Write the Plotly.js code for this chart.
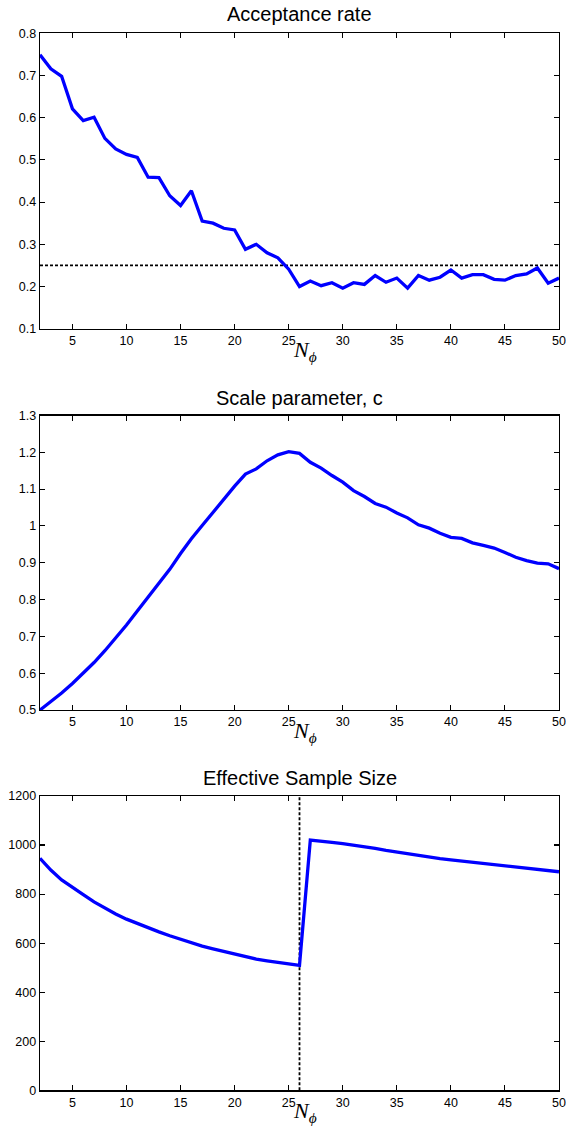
<!DOCTYPE html>
<html>
<head>
<meta charset="utf-8">
<script src="https://cdn.plot.ly/plotly-3.0.1.min.js"></script>
<style>
  html, body { margin: 0; padding: 0; background: #ffffff; }
  #chart { width: 566px; height: 1126px; }
</style>
</head>
<body>
<div id="chart"></div>
<script>
// ---- Data ----
const nPhi = [2,3,4,5,6,7,8,9,10,11,12,13,14,15,16,17,18,19,20,21,22,23,24,25,26,
              27,28,29,30,31,32,33,34,35,36,37,38,39,40,41,42,43,44,45,46,47,48,49,50];

const acceptanceRate = [0.749,0.716,0.698,0.621,0.593,0.601,0.551,0.526,0.513,0.506,
                        0.459,0.458,0.415,0.392,0.427,0.355,0.350,0.338,0.334,0.288,
                        0.300,0.280,0.268,0.241,0.200,0.213,0.202,0.209,0.196,0.209,
                        0.205,0.226,0.210,0.220,0.196,0.226,0.215,0.222,0.239,0.220,
                        0.228,0.228,0.217,0.215,0.226,0.230,0.244,0.208,0.220];

const scaleC = [0.500,0.522,0.546,0.572,0.600,0.629,0.661,0.695,0.731,0.769,
                0.806,0.844,0.882,0.925,0.965,1.001,1.037,1.071,1.108,1.141,
                1.155,1.177,1.193,1.202,1.197,1.173,1.157,1.137,1.119,1.096,
                1.080,1.061,1.051,1.035,1.022,1.003,0.994,0.980,0.969,0.966,
                0.954,0.947,0.940,0.928,0.915,0.906,0.899,0.897,0.884];

const ess = [946,898,858,826,798,768,742,719,698,680,
             664,646,630,615,600,588,577,566,555,545,
             535,528,521,515,509,1020,1014,1011,1006,1000,
             993,986,978,971,964,958,951,945,940,935,
             930,926,922,917,912,906,901,896,891];

const targetRate = 0.25;          // dashed reference line, panel 1
const resampleStage = 26;         // dashed vertical line, panel 3
const xRange = [2, 50];
const xTicks = [5,10,15,20,25,30,35,40,45,50];
const accTicks = [0.1,0.2,0.3,0.4,0.5,0.6,0.7,0.8];
const scaleTicks = [0.5,0.6,0.7,0.8,0.9,1,1.1,1.2,1.3];
const essTicks = [0,200,400,600,800,1000,1200];

const titles = ["Acceptance rate", "Scale parameter, c", "Effective Sample Size"];
const xLabel = "<i>N</i><sub><i>ϕ</i></sub>";

// ---- Layout helpers ----
const H = 1126;
const blue = '#0000ff';
const lineW = 3.3;
const dashStyle = {color: '#000000', width: 1.8, dash: '3px,2px'};

// panel pixel bounds [top, bottom]
const panels = [[33.3, 328.7], [415.5, 710], [796, 1090.3]];
const dom = p => [1 - p[1] / H, 1 - p[0] / H];

const tickFont = {family: 'Liberation Sans, Arial, sans-serif', size: 12.5, color: '#000'};
const axisCommon = {
  showline: true, linecolor: '#000', linewidth: 1.4, mirror: 'ticks',
  ticks: 'inside', ticklen: 5, tickwidth: 1.1, tickcolor: '#000',
  showgrid: false, zeroline: false, tickfont: tickFont, fixedrange: true
};

const traces = [
  {x: [xRange[0], xRange[1]], y: [targetRate, targetRate], xaxis: 'x', yaxis: 'y',
   mode: 'lines', line: dashStyle, hoverinfo: 'skip'},
  {x: nPhi, y: acceptanceRate, xaxis: 'x', yaxis: 'y', mode: 'lines',
   line: {color: blue, width: lineW}},
  {x: nPhi, y: scaleC, xaxis: 'x2', yaxis: 'y2', mode: 'lines',
   line: {color: blue, width: lineW}},
  {x: [resampleStage, resampleStage], y: [essTicks[0], essTicks[essTicks.length - 1]],
   xaxis: 'x3', yaxis: 'y3', mode: 'lines', line: dashStyle, hoverinfo: 'skip'},
  {x: nPhi, y: ess, xaxis: 'x3', yaxis: 'y3', mode: 'lines',
   line: {color: blue, width: lineW}}
];

const xAxis = anchor => Object.assign({}, axisCommon, {
  range: xRange, tickmode: 'array', tickvals: xTicks, anchor: anchor
});
const yAxis = (range, ticks, p) => Object.assign({}, axisCommon, {
  range: range, tickmode: 'array', tickvals: ticks, domain: dom(p)
});

const annotations = [];
const titleCenters = [14, 398, 778];
titles.forEach((t, i) => {
  annotations.push({
    text: t, xref: 'paper', yref: 'paper', x: 0.5, y: 1 - titleCenters[i] / H,
    xanchor: 'center', yanchor: 'middle', showarrow: false,
    font: {family: 'Liberation Sans, Arial, sans-serif', size: 20, color: '#000'}
  });
  annotations.push({
    text: xLabel, xref: 'paper', yref: 'paper', x: (305 - 40) / 519,
    y: 1 - (panels[i][1] + 22) / H, xanchor: 'center', yanchor: 'middle',
    showarrow: false, borderpad: 0,
    font: {family: 'Liberation Serif, DejaVu Serif, serif', size: 22, color: '#000'}
  });
});

const layout = {
  width: 566, height: H,
  margin: {l: 40, r: 7, t: 0, b: 0, pad: 0},
  paper_bgcolor: '#fff', plot_bgcolor: '#fff',
  showlegend: false,
  xaxis: xAxis('y'),
  yaxis: yAxis([0.1, 0.8], accTicks, panels[0]),
  xaxis2: xAxis('y2'),
  yaxis2: yAxis([0.5, 1.3], scaleTicks, panels[1]),
  xaxis3: xAxis('y3'),
  yaxis3: yAxis([0, 1200], essTicks, panels[2]),
  annotations: annotations
};

Plotly.newPlot('chart', traces, layout, {displayModeBar: false, staticPlot: true});
</script>
</body>
</html>
